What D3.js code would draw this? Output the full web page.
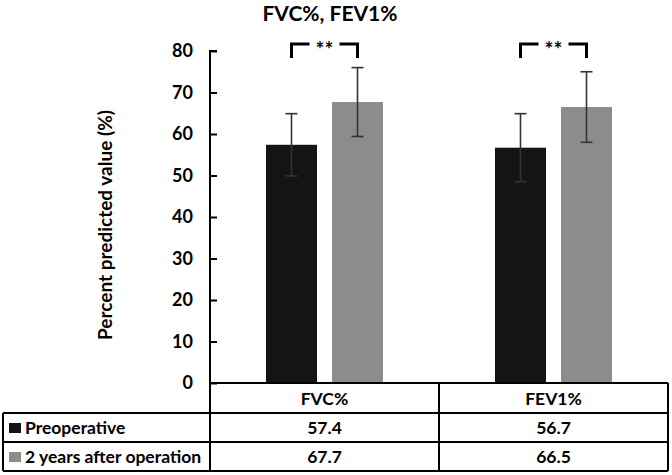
<!DOCTYPE html>
<html>
<head>
<meta charset="utf-8">
<script src="https://cdn.jsdelivr.net/npm/d3@7"></script>
<style>
  body { margin: 0; background: #fff; }
  svg { font-family: Lato, "Open Sans", sans-serif; font-weight: bold; }
</style>
</head>
<body>
<svg id="chart" width="672" height="475"></svg>
<script>
const categories = ["FVC%", "FEV1%"];
const seriesNames = ["Preoperative", "2 years after operation"];
const preoperative = [57.4, 56.7];
const afterTwoYears = [67.7, 66.5];
const preSD = [7.5, 8.2];
const afterSD = [8.3, 8.5];
const yTicks = [0, 10, 20, 30, 40, 50, 60, 70, 80];
const significance = ["**", "**"];

const colors = ["#141414", "#8c8c8c"];

const svg = d3.select("#chart");
const plotLeft = 210, plotRight = 668, plotTop = 51, zero = 383;
const rowH = 29;

const x = d3.scaleBand().domain(categories).range([plotLeft, plotRight]);
const y = d3.scaleLinear().domain([0, 80]).range([zero, plotTop]);

const series = [
  { name: seriesNames[0], values: preoperative, sd: preSD, color: colors[0] },
  { name: seriesNames[1], values: afterTwoYears, sd: afterSD, color: colors[1] }
];

const barW = 51, offset = 33;

// title
svg.append("text")
  .attr("x", 330).attr("y", 21)
  .attr("text-anchor", "middle")
  .attr("font-size", 21)
  .text("FVC%, FEV1%");

// y axis (ticks point inward)
const yAxis = svg.append("g")
  .attr("transform", `translate(${plotLeft},0)`)
  .call(d3.axisLeft(y).tickValues(yTicks).tickSize(-7).tickPadding(17));
yAxis.selectAll("path, line").attr("stroke", "#000").attr("stroke-width", 2);
yAxis.select(".domain").attr("d", `M7,${plotTop}H0V${zero}`);
yAxis.selectAll("text")
  .attr("font-size", 18).attr("font-family", "Lato, sans-serif").attr("font-weight", "bold")
  .attr("fill", "#000");

svg.append("text")
  .attr("transform", `translate(112,${(plotTop + zero) / 2 + 8}) rotate(-90)`)
  .attr("text-anchor", "middle")
  .attr("font-size", 19)
  .text("Percent predicted value (%)");

// bars + error bars
series.forEach((s, si) => {
  const dx = si === 0 ? -offset : offset;
  svg.append("g").selectAll("rect").data(categories).join("rect")
    .attr("x", d => x(d) + x.bandwidth() / 2 + dx - barW / 2)
    .attr("y", (d, i) => y(s.values[i]))
    .attr("width", barW)
    .attr("height", (d, i) => zero - y(s.values[i]))
    .attr("fill", s.color);
  const eb = svg.append("g").attr("stroke", "#333").attr("stroke-width", 1.6);
  categories.forEach((c, i) => {
    const cx = x(c) + x.bandwidth() / 2 + dx;
    const hi = y(s.values[i] + s.sd[i]), lo = y(s.values[i] - s.sd[i]);
    eb.append("line").attr("x1", cx).attr("x2", cx).attr("y1", hi).attr("y2", lo);
    eb.append("line").attr("x1", cx - 6).attr("x2", cx + 6).attr("y1", hi).attr("y2", hi);
    eb.append("line").attr("x1", cx - 6).attr("x2", cx + 6).attr("y1", lo).attr("y2", lo);
  });
});

// significance brackets
categories.forEach((c, i) => {
  const cx = x(c) + x.bandwidth() / 2;
  const x1 = cx - offset, x2 = cx + offset;
  const yb = 44, yd = 58;
  const g = svg.append("g").attr("fill", "none").attr("stroke", "#000").attr("stroke-width", 3);
  g.append("path").attr("d", `M${x1},${yd}V${yb}H${cx - 15}`);
  g.append("path").attr("d", `M${x2},${yd}V${yb}H${cx + 15}`);
  svg.append("text")
    .attr("x", cx).attr("y", 57)
    .attr("text-anchor", "middle")
    .attr("font-size", 21)
    .text(significance[i]);
});

// data table
const tbl = svg.append("g").attr("stroke", "#000").attr("stroke-width", 2).attr("fill", "none");
const tLeft = 3;
const r0 = zero, r1 = zero + 30, r2 = r1 + rowH, r3 = r2 + rowH;
tbl.append("line").attr("x1", plotLeft).attr("x2", plotRight).attr("y1", r0).attr("y2", r0);
[r1, r2, r3].forEach(ry => {
  tbl.append("line").attr("x1", tLeft).attr("x2", plotRight).attr("y1", ry).attr("y2", ry);
});
tbl.append("line").attr("x1", tLeft).attr("x2", tLeft).attr("y1", r1).attr("y2", r3);
[plotLeft, plotLeft + x.bandwidth(), plotRight].forEach(xx => {
  tbl.append("line").attr("x1", xx).attr("x2", xx).attr("y1", r0).attr("y2", r3);
});

svg.selectAll(".cat").data(categories).join("text")
  .attr("class", "cat")
  .attr("x", d => x(d) + x.bandwidth() / 2)
  .attr("y", (r0 + r1) / 2 + 6.5)
  .attr("text-anchor", "middle")
  .attr("font-size", 17.5)
  .text(d => d);

series.forEach((s, si) => {
  const ry = (si === 0 ? r1 : r2);
  svg.append("rect").attr("x", 9).attr("y", ry + 10).attr("width", 12).attr("height", 10).attr("fill", s.color);
  svg.append("text").attr("x", 25).attr("y", ry + rowH / 2 + 6.5)
    .attr("font-size", 17.5).text(s.name);
  svg.append("g").selectAll("text").data(categories).join("text")
    .attr("x", d => x(d) + x.bandwidth() / 2)
    .attr("y", ry + rowH / 2 + 6.5)
    .attr("text-anchor", "middle")
    .attr("font-size", 17.5)
    .text((d, i) => s.values[i].toFixed(1));
});
</script>
</body>
</html>
